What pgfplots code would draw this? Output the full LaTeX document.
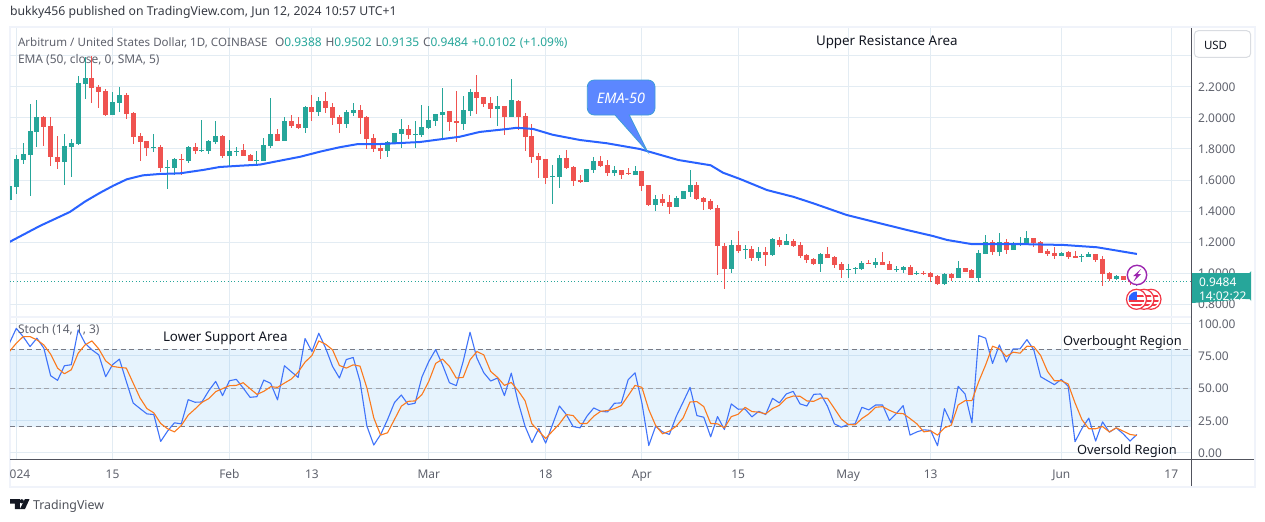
\documentclass[border=0pt]{standalone}
\usepackage{fontspec}
\usepackage{pgfplots}
\usepackage{pgfplotstable}
\pgfplotsset{compat=1.18}
\setmainfont{Noto Sans}
\definecolor{up}{HTML}{26A69A}
\definecolor{dn}{HTML}{EF5350}
\definecolor{emac}{HTML}{2962FF}
\definecolor{kc}{HTML}{3F73FA}
\definecolor{dc}{HTML}{FB7A1E}
\definecolor{gridc}{HTML}{E3ECF3}
\definecolor{framec}{HTML}{F0F3FA}
\definecolor{lab}{HTML}{5F626D}
\definecolor{ink}{HTML}{131722}
\definecolor{dashc}{HTML}{787B86}
\definecolor{purp}{HTML}{9C27B0}
\definecolor{flagred}{HTML}{F23645}
\definecolor{flagblue}{HTML}{2962FF}
\definecolor{callf}{HTML}{5C87FF}
\definecolor{calld}{HTML}{3E9DD8}
\definecolor{bandc}{HTML}{2196F3}
\newcommand\fs[1]{\fontsize{#1}{#1}\selectfont}
\pgfplotstableread{
d o h l c
-1 1.471 1.563 1.471 1.563
0 1.557 1.761 1.509 1.735
1 1.729 1.838 1.703 1.768
2 1.761 2.090 1.497 1.916
3 1.909 2.116 1.815 2.006
4 2.006 2.013 1.819 1.944
5 1.948 2.006 1.692 1.750
6 1.748 1.884 1.669 1.716
7 1.716 1.897 1.567 1.819
8 1.813 1.864 1.621 1.838
9 1.832 2.271 1.826 2.223
10 2.219 2.395 2.122 2.258
11 2.258 2.400 2.097 2.193
12 2.200 2.213 2.064 2.168
13 2.174 2.187 2.013 2.019
14 2.019 2.168 2.019 2.103
15 2.097 2.200 2.038 2.148
16 2.148 2.161 1.993 2.026
17 2.032 2.038 1.832 1.877
18 1.884 1.903 1.722 1.845
19 1.851 1.851 1.755 1.806
20 1.806 1.897 1.780 1.813
21 1.813 1.826 1.651 1.677
22 1.677 1.729 1.542 1.684
23 1.677 1.742 1.632 1.735
24 1.735 1.768 1.632 1.729
25 1.722 1.819 1.709 1.813
26 1.813 1.838 1.768 1.787
27 1.787 1.987 1.780 1.793
28 1.787 1.858 1.768 1.851
29 1.845 1.980 1.832 1.884
30 1.884 1.890 1.742 1.755
31 1.755 1.858 1.684 1.787
32 1.780 1.813 1.755 1.787
33 1.793 1.832 1.755 1.755
34 1.761 1.768 1.722 1.722
35 1.722 1.787 1.697 1.729
36 1.722 1.871 1.722 1.826
37 1.819 2.129 1.806 1.897
38 1.897 1.929 1.851 1.851
39 1.851 2.006 1.851 1.980
40 1.980 2.019 1.935 1.948
41 1.961 2.006 1.929 1.935
42 1.935 2.077 1.903 2.071
43 2.071 2.148 1.980 2.038
44 2.038 2.135 2.013 2.109
45 2.110 2.168 2.032 2.064
46 2.071 2.097 1.955 2.000
47 2.006 2.019 1.903 1.961
48 1.961 2.051 1.935 2.038
49 2.032 2.097 2.013 2.051
50 2.051 2.084 1.897 2.000
51 2.006 2.013 1.800 1.864
52 1.871 1.897 1.780 1.800
53 1.806 1.826 1.735 1.787
54 1.787 1.851 1.748 1.845
55 1.832 1.903 1.832 1.903
56 1.897 1.993 1.806 1.929
57 1.929 1.955 1.864 1.890
58 1.890 1.980 1.806 1.897
59 1.890 2.084 1.877 1.942
60 1.935 2.077 1.929 1.987
61 1.980 2.026 1.948 2.026
62 2.019 2.193 1.871 2.038
63 2.045 2.045 1.916 1.974
64 1.980 2.174 1.845 1.968
65 1.961 2.142 1.922 2.051
66 2.045 2.187 2.013 2.168
67 2.168 2.277 2.026 2.129
68 2.135 2.135 2.071 2.090
69 2.097 2.135 2.000 2.058
70 2.058 2.142 1.948 2.077
71 2.077 2.077 1.890 2.006
72 2.006 2.251 2.006 2.116
73 2.109 2.116 1.922 2.006
74 2.013 2.032 1.787 1.877
75 1.884 1.961 1.709 1.748
76 1.755 1.774 1.613 1.729
77 1.735 1.735 1.574 1.613
78 1.619 1.697 1.445 1.626
79 1.619 1.761 1.548 1.742
80 1.742 1.793 1.671 1.677
81 1.684 1.690 1.561 1.593
82 1.600 1.632 1.580 1.587
83 1.587 1.671 1.587 1.671
84 1.664 1.748 1.645 1.722
85 1.722 1.755 1.684 1.690
86 1.697 1.729 1.626 1.645
87 1.645 1.690 1.626 1.664
88 1.664 1.664 1.606 1.632
89 1.645 1.677 1.632 1.639
90 1.632 1.690 1.632 1.658
91 1.658 1.658 1.529 1.561
92 1.568 1.568 1.432 1.439
93 1.439 1.503 1.400 1.477
94 1.477 1.510 1.432 1.452
95 1.458 1.503 1.381 1.426
96 1.426 1.497 1.426 1.484
97 1.477 1.529 1.477 1.529
98 1.523 1.664 1.490 1.568
99 1.568 1.587 1.471 1.477
100 1.484 1.490 1.406 1.458
101 1.464 1.477 1.406 1.413
102 1.419 1.439 0.987 1.174
103 1.174 1.193 0.897 1.026
104 1.026 1.213 1.000 1.181
105 1.181 1.271 1.129 1.142
106 1.148 1.181 1.090 1.155
107 1.155 1.174 1.077 1.097
108 1.097 1.168 1.077 1.135
109 1.135 1.168 1.045 1.116
110 1.116 1.226 1.110 1.219
111 1.213 1.232 1.168 1.181
112 1.181 1.251 1.181 1.206
113 1.206 1.219 1.168 1.174
114 1.181 1.200 1.097 1.110
115 1.116 1.122 1.065 1.084
116 1.090 1.097 1.052 1.058
117 1.058 1.129 1.006 1.122
118 1.122 1.168 1.097 1.097
119 1.103 1.110 1.032 1.052
120 1.058 1.071 0.968 1.019
121 1.019 1.058 0.968 1.026
122 1.026 1.039 0.994 1.032
123 1.026 1.077 1.019 1.065
124 1.065 1.084 1.058 1.058
125 1.052 1.097 1.032 1.071
126 1.071 1.135 1.052 1.052
127 1.058 1.077 1.019 1.019
128 1.019 1.045 1.006 1.026
129 1.019 1.045 1.000 1.039
130 1.039 1.052 0.987 0.987
131 0.994 1.013 0.987 1.000
132 1.000 1.013 0.987 0.994
133 1.000 1.006 0.942 0.974
134 0.981 0.987 0.923 0.929
135 0.929 1.000 0.923 0.994
136 0.994 1.000 0.948 0.968
137 0.968 1.075 0.968 1.030
138 1.030 1.030 1.007 1.007
139 1.019 1.026 0.968 0.968
140 0.968 1.148 0.942 1.129
141 1.123 1.245 1.123 1.200
142 1.200 1.213 1.116 1.135
143 1.135 1.258 1.110 1.200
144 1.200 1.219 1.123 1.148
145 1.148 1.200 1.148 1.194
146 1.187 1.232 1.174 1.194
147 1.187 1.271 1.187 1.226
148 1.226 1.226 1.168 1.194
149 1.200 1.206 1.129 1.129
150 1.142 1.155 1.110 1.123
151 1.129 1.168 1.090 1.110
152 1.110 1.135 1.110 1.129
153 1.135 1.142 1.090 1.103
154 1.110 1.142 1.097 1.097
155 1.103 1.123 1.071 1.110
156 1.103 1.135 1.103 1.123
157 1.123 1.123 1.071 1.084
158 1.090 1.110 0.916 0.994
159 1.000 1.006 0.948 0.961
160 0.961 0.987 0.955 0.981
161 0.981 0.981 0.955 0.955
162 0.955 0.960 0.923 0.9388
163 0.9388 0.9502 0.9135 0.9484
}\ohlc
\pgfplotstableread{
d p
-1 1.200
3.4 1.303
7.8 1.394
10 1.461
12.2 1.518
14.1 1.563
16.1 1.605
18.4 1.630
20.9 1.639
23.8 1.643
27.2 1.665
29.6 1.684
32.5 1.692
35.4 1.699
38.4 1.725
41.3 1.750
44.2 1.783
47 1.811
49.7 1.832
52.9 1.832
58.7 1.845
64.5 1.879
67.4 1.910
71.4 1.929
72.8 1.937
75.2 1.929
78 1.892
82 1.858
85.9 1.837
90.7 1.800
96.3 1.729
101 1.695
102.8 1.647
105.3 1.606
109.2 1.535
113 1.492
115.9 1.450
120.8 1.374
125.6 1.321
129.6 1.277
133.3 1.239
135.4 1.213
138.9 1.187
145.6 1.187
152.3 1.181
157.2 1.166
163 1.123
}\ema
\pgfplotstableread{
d k m
-1 84.6 78.2
0 96.1 84.6
1 89.7 89.7
2 82.0 89.7
3 88.5 87.2
4 80.8 83.3
5 59.5 76.1
6 55.9 65.4
7 67.2 61.0
8 68.0 64.1
9 94.9 76.9
10 84.6 83.3
11 79.5 86.4
12 75.6 80.2
13 58.7 71.0
14 68.0 66.7
15 72.3 65.9
16 55.1 65.4
17 38.4 53.8
18 34.1 42.3
19 30.0 34.1
20 29.5 30.8
21 8.7 22.6
22 16.7 18.5
23 23.1 16.1
24 22.3 21.0
25 41.0 29.0
26 39.0 33.8
27 39.2 38.9
28 47.9 41.8
29 55.1 47.2
30 44.1 49.5
31 55.6 51.8
32 56.7 52.0
33 50.0 54.1
34 42.8 49.5
35 43.3 45.1
36 56.1 47.4
37 53.6 51.0
38 40.8 50.5
39 67.2 53.8
40 62.6 56.9
41 58.2 62.3
42 88.2 70.0
43 78.2 75.1
44 92.3 86.4
45 80.8 83.8
46 66.7 79.5
47 57.7 67.4
48 72.0 65.4
49 73.6 67.9
50 55.1 66.9
51 20.5 50.0
52 5.9 26.9
53 14.1 13.6
54 25.6 15.4
55 38.7 25.6
56 44.6 35.9
57 37.2 39.7
58 38.2 40.0
59 58.5 44.9
60 70.5 55.1
61 79.7 69.0
62 67.9 72.3
63 54.1 66.7
64 51.8 57.7
65 70.5 58.2
66 93.1 71.8
67 73.1 78.2
68 61.8 75.6
69 55.4 62.8
70 57.7 58.2
71 44.1 52.0
72 61.5 54.3
73 39.2 47.9
74 20.5 40.2
75 7.9 22.3
76 18.7 16.7
77 7.4 11.0
78 21.8 16.7
79 36.1 22.3
80 29.5 29.5
81 20.2 28.7
82 19.2 22.6
83 28.2 22.6
84 34.6 28.2
85 32.0 32.0
86 31.5 32.6
87 38.2 34.1
88 38.5 36.4
89 56.4 44.1
90 61.8 52.0
91 38.5 50.5
92 5.6 33.3
93 20.5 21.0
94 16.1 14.6
95 14.1 16.7
96 28.2 20.5
97 39.2 26.9
98 50.5 39.2
99 28.7 39.5
100 27.4 35.6
101 12.3 22.6
102 27.9 22.3
103 17.9 19.2
104 37.7 27.9
105 33.6 29.7
106 33.8 35.1
107 27.7 31.8
108 32.0 31.3
109 29.5 30.0
110 42.0 34.1
111 38.5 36.7
112 45.4 42.0
113 47.4 43.8
114 37.7 43.6
115 36.1 40.0
116 45.1 39.7
117 45.4 42.3
118 35.9 42.0
119 22.3 34.1
120 19.7 26.1
121 21.8 21.8
122 22.3 21.5
123 35.1 26.4
124 33.1 30.0
125 36.9 35.1
126 36.9 35.6
127 24.9 32.8
128 30.2 30.5
129 36.4 30.2
130 13.6 26.4
131 16.1 22.3
132 17.7 16.1
133 17.2 16.9
134 5.4 13.6
135 34.1 19.2
136 22.8 21.3
137 51.3 36.9
138 45.4 40.2
139 23.1 40.2
140 90.5 55.1
141 88.5 67.9
142 69.0 82.3
143 83.3 80.2
144 70.0 74.3
145 80.2 77.7
146 80.2 76.9
147 87.4 82.3
148 79.5 82.0
149 58.7 75.1
150 55.6 62.8
151 52.6 55.6
152 56.7 55.6
153 51.3 53.1
154 8.5 38.5
155 18.7 25.6
156 26.7 18.5
157 9.0 18.5
158 23.8 20.2
159 15.9 16.1
160 19.2 19.2
161 14.6 16.7
162 9.0 14.1
163 14.1 13.3
}\stoch
\pgfplotsset{
  chart/.style={
    scale only axis, width=1181bp, xmin=-0.916, xmax=170.866,
    xtick={0,14,31,43,60,77,91,105,121,133,152,168},
    grid=major, grid style={draw=gridc,line width=1bp},
    axis line style={draw=none}, major tick length=0pt,
    ytick pos=right, yticklabel pos=right,
    yticklabel style={anchor=west,inner sep=0pt,xshift=7bp,yshift=-0.7bp,text=lab,font=\fs{12}},
    clip=true},
  wick/.style={draw=none,forget plot,mark=none,
    error bars/.cd,y dir=both,y explicit,error mark=none,
    error bar style={draw=#1,line width=1bp}},
  body/.style={draw=none,forget plot,mark=none,
    error bars/.cd,y dir=plus,y explicit,error mark=none,
    error bar style={draw=#1,line width=5bp}},
}
\begin{document}
\begin{tikzpicture}
\path[use as bounding box] (0bp,-522bp) rectangle (1265bp,0bp);
\begin{scope}[x=1bp,y=-1bp]
\fill[framec] (9,26) rectangle (1256,488);
\fill[white] (10.6,28) rectangle (1253.6,485.5);
\fill[framec] (10.6,316) rectangle (1191,318);
\end{scope}
% price pane
\begin{axis}[chart, at={(10bp,-316bp)}, anchor=south west, height=288bp,
  ymin=0.7226, ymax=2.5806,
  xticklabels={},
  ytick={0.8,1,1.2,1.4,1.6,1.8,2,2.2,2.4},
  yticklabels={0.8000,1.0000,1.2000,1.4000,1.6000,1.8000,2.0000,2.2000,{}}]
\addplot[up,line width=1bp,dash pattern=on 1bp off 2.4bp,forget plot] coordinates {(-0.916,0.9484) (170.866,0.9484)};
\addplot[wick=up] table[x expr={\thisrow{c}>=\thisrow{o}?\thisrow{d}:nan},y=c,y error plus expr=\thisrow{h}-\thisrow{c},y error minus expr=\thisrow{c}-\thisrow{l}] {\ohlc};
\addplot[wick=dn] table[x expr={\thisrow{c}<\thisrow{o}?\thisrow{d}:nan},y=c,y error plus expr=\thisrow{h}-\thisrow{c},y error minus expr=\thisrow{c}-\thisrow{l}] {\ohlc};
\addplot[body=up] table[x expr={\thisrow{c}>=\thisrow{o}?\thisrow{d}:nan},y=o,y error plus expr=\thisrow{c}-\thisrow{o},y error minus expr=0] {\ohlc};
\addplot[body=dn] table[x expr={\thisrow{c}<\thisrow{o}?\thisrow{d}:nan},y=c,y error plus expr=\thisrow{o}-\thisrow{c},y error minus expr=0] {\ohlc};
\addplot[emac,line width=2bp,line join=round] table[x=d,y=p] {\ema};
\end{axis}
% stochastic pane
\begin{axis}[chart, at={(10bp,-459bp)}, anchor=south west, height=141bp,
  ymin=-4.87, ymax=104.1,
  xticklabels={\hspace*{7.4bp}024,15,Feb,13,Mar,18,Apr,15,May,13,Jun,17},
  xticklabel style={anchor=base,inner sep=0pt,yshift=-19.3bp,text=lab,font=\fs{12}},
  ytick={0,25,50,75,100},
  yticklabels={0.00,25.00,50.00,75.00,100.00}]
\addplot[draw=none,fill=bandc,fill opacity=0.11,forget plot] coordinates {(-0.916,20) (170.866,20) (170.866,80) (-0.916,80)} -- cycle;
\addplot[dashc,line width=1bp,dash pattern=on 5bp off 3.5bp,forget plot] coordinates {(-0.916,80) (170.866,80)};
\addplot[dashc!70,line width=1bp,dash pattern=on 5bp off 3.5bp,forget plot] coordinates {(-0.916,50) (170.866,50)};
\addplot[dashc,line width=1bp,dash pattern=on 5bp off 3.5bp,forget plot] coordinates {(-0.916,20) (170.866,20)};
\addplot[kc,line width=1.1bp,line join=round] table[x=d,y=k] {\stoch};
\addplot[dc,line width=1.1bp,line join=round] table[x=d,y=m] {\stoch};
\end{axis}
\begin{scope}[x=1bp,y=-1bp,every node/.style={inner sep=0pt,outer sep=0pt}]
% frame lines
\draw[color=lab!85!black,line width=1bp] (1191.3,28) -- (1191.3,486);
\draw[color=lab!85!black,line width=1bp] (10,459.3) -- (1254,459.3);
% header and legends
\node[anchor=west,text=ink!85,font=\fs{12.3}] at (10,12.2) {bukky456 published on TradingView.com, Jun 12, 2024 10:57 UTC+1};
\node[anchor=west,text=lab,font=\fs{11.62}] at (18,42.7) {Arbitrum / United States Dollar, 1D, COINBASE};
\node[anchor=west,text=lab,font=\fs{12}] at (275,42.7) {O\textcolor{up}{0.9388}\hspace{0.7bp} H\textcolor{up}{0.9502}\hspace{0.7bp} L\textcolor{up}{0.9135}\hspace{0.7bp} C\textcolor{up}{0.9484}\hspace{0.7bp} \textcolor{up}{+0.0102\hspace{0.7bp} (+1.09\%)}};
\node[anchor=west,text=lab,font=\fs{12}] at (18,59.5) {EMA (50, close, 0, SMA, 5)};
\node[anchor=west,text=lab,font=\fs{12}] at (18,330) {Stoch (14, 1, 3)};
% annotations
\node[anchor=west,text=ink,font=\fs{13.4}] at (816,42) {Upper Resistance Area};
\node[anchor=west,text=ink,font=\fs{13.4}] at (163,338) {Lower Support Area};
\node[anchor=west,text=ink,font=\fs{12.9}] at (1063,342) {Overbought Region};
\node[anchor=west,text=ink,font=\fs{12.9}] at (1077,451) {Oversold Region};
% callout
\draw[draw=calld,fill=callf,line width=0.8bp,rounded corners=7bp]
  (587.3,80) -- (655,80) -- (655,115) [sharp corners] -- (629.3,115) -- (647.8,152) -- (615,115) [rounded corners=7bp] -- (587.3,115) -- cycle;
\node[text=white,font=\fs{14.5}\bfseries\itshape] at (621,98) {EMA-50};
% USD button
\draw[draw=framec!80!gray,fill=white,line width=1bp,rounded corners=4bp] (1194.3,30.7) rectangle (1250.7,57.3);
\node[anchor=west,text=ink,font=\fs{11.5}] at (1204,45) {USD};
% last-price tag
\fill[up] (1192,273) -- (1249,273) arc[start angle=90,end angle=0,radius=2] -- (1251,301) arc[start angle=0,end angle=-90,radius=2] -- (1192,303) -- cycle;
\node[anchor=west,text=white,font=\fs{12}] at (1199,282.3) {0.9484};
\node[anchor=west,text=white,font=\fs{12}] at (1199,296.3) {14:02:22};
% purple event icon
\draw[draw=purp,fill=white,line width=1.4bp] (1137,275) circle (9.7);
\fill[purp] (1141,269) -- (1133,276.2) -- (1136.4,276.2) -- (1133.5,281.5) -- (1141.2,274) -- (1137.6,274) -- cycle;
% flag icons
\foreach \cx in {1151,1144,1136.5}{
  \draw[draw=flagred,fill=white,line width=1.2bp] (\cx,299.3) circle (10);
  \begin{scope}
    \clip (\cx,299.3) circle (7.8);
    \fill[flagred] (\cx-9,295) rectangle (\cx+9,297);
    \fill[flagred] (\cx-9,299.5) rectangle (\cx+9,301.5);
    \fill[flagred] (\cx-9,304) rectangle (\cx+9,306);
    \fill[flagblue] (\cx-9,291) rectangle (\cx,299.5);
  \end{scope}
}
% TradingView mark
\fill[ink] (10,499.2) -- (19.8,499.2) -- (19.8,509) -- (14.8,509) -- (14.8,503.6) -- (10,503.6) -- cycle;
\fill[ink] (21.8,501.3) circle (2.1);
\fill[ink] (24.8,499.2) -- (29.5,499.2) -- (25,509) -- (19.9,509) -- cycle;
\node[anchor=west,text=ink!75,font=\fs{12.4}] at (33,506) {TradingView};
\end{scope}
\end{tikzpicture}
\end{document}
